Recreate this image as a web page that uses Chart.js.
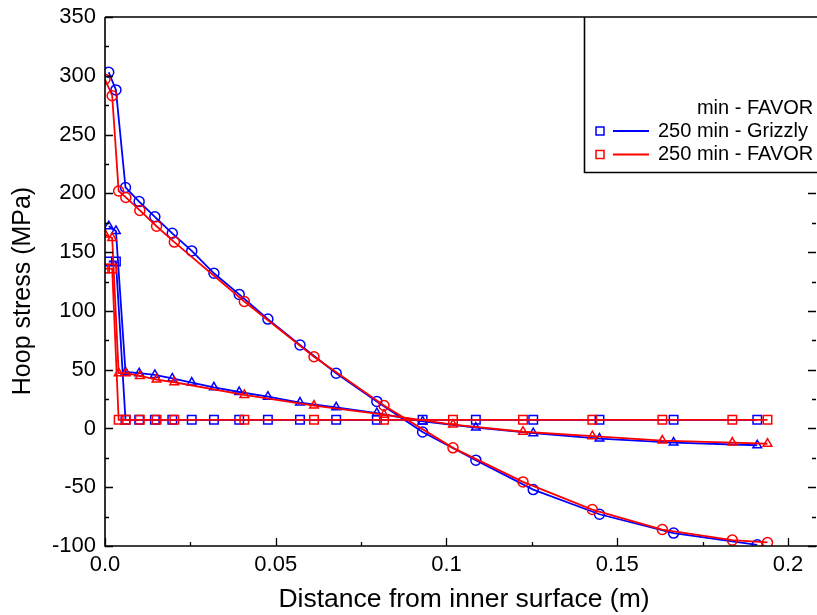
<!DOCTYPE html>
<html>
<head>
<meta charset="utf-8">
<script src="https://cdn.jsdelivr.net/npm/chart.js@4/dist/chart.umd.min.js"></script>
<style>
  html, body { margin: 0; padding: 0; background: #fff; }
  canvas { display: block; }
</style>
</head>
<body>
<canvas id="hoopChart" width="817" height="615"></canvas>
<script>
// distance from inner surface (m), mesh points of each code
var grizzlyX = [0.0011, 0.0032, 0.0060, 0.0100, 0.0146, 0.0197, 0.0254, 0.0319, 0.0393, 0.0477,
  0.0571, 0.0677, 0.0796, 0.0930, 0.1086, 0.1254, 0.1448, 0.1665, 0.1910];
var favorX = [0.0000, 0.0021, 0.0040, 0.0061, 0.0102, 0.0151, 0.0203, 0.0408, 0.0612, 0.0817,
  0.1019, 0.1224, 0.1427, 0.1632, 0.1837, 0.1940];

// hoop stress (MPa)
var grizzlyCircle = [303, 288, 205, 193, 180, 166, 151, 132, 114, 93, 71, 47, 23, -3, -27, -52, -73, -89, -99];
var grizzlyTriangle = [172, 168, 48, 47, 45.5, 42.5, 39, 35, 31, 27, 22, 18, 13, 6, 0.8, -4, -8.6, -12, -14.3];
var grizzlySquare = [142, 142, 7.3, 7.3, 7.3, 7.3, 7.3, 7.3, 7.3, 7.3, 7.3, 7.3, 7.3, 7.3, 7.3, 7.3, 7.3, 7.3, 7.3];
var favorCircle = [297, 283, 202, 196.5, 185.5, 172, 158.5, 108, 61, 19.5, -16.5, -45.5, -69, -86, -95, -97];
var favorTriangle = [165, 162, 47, 47, 44.7, 41.6, 39.3, 28.5, 19.5, 11.7, 3.3, -2.8, -6.6, -10.3, -12, -13];
var favorSquare = [136, 136, 7.3, 7.3, 7.3, 7.3, 7.3, 7.3, 7.3, 7.3, 7.3, 7.3, 7.3, 7.3, 7.3, 7.3];

var xTickValues = [0, 0.05, 0.1, 0.15, 0.2];
var xTickLabels = ["0.0", "0.05", "0.1", "0.15", "0.2"];
var yTickValues = [-100, -50, 0, 50, 100, 150, 200, 250, 300, 350];

var legendTop = "min - FAVOR";
var legendItems = [
  { label: "250 min - Grizzly", color: "#0000ff" },
  { label: "250 min - FAVOR", color: "#ff0000" }
];

function pts(xs, ys) {
  return xs.map(function (x, i) { return { x: x, y: ys[i] }; });
}

function series(label, xs, ys, color, style, radius) {
  return {
    label: label,
    data: pts(xs, ys),
    showLine: true,
    borderColor: color,
    backgroundColor: "rgba(0,0,0,0)",
    borderWidth: 1.8,
    pointStyle: style,
    pointRadius: radius,
    pointBorderWidth: 1.5,
    pointBorderColor: color,
    pointBackgroundColor: "rgba(0,0,0,0)"
  };
}

var FONT = "'Liberation Sans', Arial, sans-serif";
var FRAME_RIGHT = 816;

// inward ticks, frame, axis titles and the legend box
var framePlugin = {
  id: "frame",
  afterDraw: function (chart) {
    var ctx = chart.ctx;
    var a = chart.chartArea;
    var xs = chart.scales.x, ys = chart.scales.y;
    ctx.save();
    ctx.strokeStyle = "#000";
    ctx.lineWidth = 1.6;
    ctx.beginPath();
    ctx.moveTo(a.left, a.top);
    ctx.lineTo(a.left, a.bottom);
    ctx.lineTo(817, a.bottom);
    ctx.moveTo(a.left, a.top);
    ctx.lineTo(817, a.top);
    ctx.stroke();

    ctx.lineWidth = 1.3;
    ctx.beginPath();
    var v, p, len;
    for (v = -100; v <= 350; v += 25) {
      p = Math.round(ys.getPixelForValue(v)) + 0.5;
      len = (v % 50 === 0) ? 8 : 4;
      ctx.moveTo(a.left, p); ctx.lineTo(a.left + len, p);
      if (p > 175) {
        ctx.moveTo(FRAME_RIGHT, p); ctx.lineTo(FRAME_RIGHT - len, p);
      }
    }
    for (var k = 0; k <= 8; k++) {
      v = k * 0.025;
      p = Math.round(xs.getPixelForValue(v)) + 0.5;
      len = (k % 2 === 0) ? 8 : 4;
      ctx.moveTo(p, a.bottom); ctx.lineTo(p, a.bottom - len);
    }
    ctx.stroke();

    // axis titles
    ctx.fillStyle = "#000";
    ctx.textAlign = "center";
    ctx.textBaseline = "middle";
    ctx.font = "26.5px " + FONT;
    ctx.fillText("Distance from inner surface (m)", 464, 600);
    ctx.save();
    ctx.font = "25px " + FONT;
    ctx.translate(23, 291);
    ctx.rotate(-Math.PI / 2);
    ctx.fillText("Hoop stress (MPa)", 0, 0);
    ctx.restore();

    // legend box
    ctx.lineWidth = 1.6;
    ctx.beginPath();
    ctx.moveTo(584.5, a.top);
    ctx.lineTo(584.5, 172.5);
    ctx.lineTo(817, 172.5);
    ctx.stroke();

    ctx.font = "20px " + FONT;
    ctx.textAlign = "left";
    var tx = 658;
    ctx.fillText(legendTop, tx + ctx.measureText("250 ").width, 108);
    legendItems.forEach(function (it, i) {
      var y = 131 + i * 23.5;
      ctx.strokeStyle = it.color;
      ctx.lineWidth = 1.5;
      ctx.strokeRect(596, y - 4, 8, 8);
      ctx.lineWidth = 1.8;
      ctx.beginPath();
      ctx.moveTo(613, y); ctx.lineTo(649, y);
      ctx.stroke();
      ctx.fillStyle = "#000";
      ctx.fillText(it.label, tx, y);
    });
    ctx.restore();
  }
};

new Chart(document.getElementById("hoopChart").getContext("2d"), {
  type: "scatter",
  data: {
    datasets: [
      series("FAVOR circles", favorX, favorCircle, "#ff0000", "circle", 5),
      series("FAVOR triangles", favorX, favorTriangle, "#ff0000", "triangle", 5),
      series("250 min - FAVOR", favorX, favorSquare, "#ff0000", "rect", 6),
      series("Grizzly circles", grizzlyX, grizzlyCircle, "#0000ff", "circle", 5),
      series("Grizzly triangles", grizzlyX, grizzlyTriangle, "#0000ff", "triangle", 5),
      series("250 min - Grizzly", grizzlyX, grizzlySquare, "#0000ff", "rect", 6)
    ]
  },
  options: {
    responsive: false,
    animation: false,
    layout: { padding: { top: 17, right: 1, left: 0, bottom: 0 } },
    plugins: {
      legend: { display: false },
      tooltip: { enabled: false }
    },
    scales: {
      x: {
        type: "linear",
        min: 0,
        max: 0.2063,
        grid: { display: false, drawTicks: false },
        border: { display: false },
        afterBuildTicks: function (s) {
          s.ticks = xTickValues.map(function (v) { return { value: v }; });
        },
        afterFit: function (s) {
          s.height = 69;
          s.paddingLeft = 0;
          s.paddingRight = 0;
        },
        ticks: {
          padding: 6,
          color: "#000",
          font: { family: FONT, size: 22 },
          maxRotation: 0,
          callback: function (v, i) { return xTickLabels[i]; }
        }
      },
      y: {
        type: "linear",
        min: -100,
        max: 350,
        grid: { display: false, drawTicks: false },
        border: { display: false },
        afterBuildTicks: function (s) {
          s.ticks = yTickValues.map(function (v) { return { value: v }; });
        },
        afterFit: function (s) {
          s.width = 105;
          s.paddingTop = 0;
          s.paddingBottom = 0;
        },
        ticks: {
          padding: 9,
          color: "#000",
          font: { family: FONT, size: 22 }
        }
      }
    }
  },
  plugins: [framePlugin]
});
</script>
</body>
</html>
